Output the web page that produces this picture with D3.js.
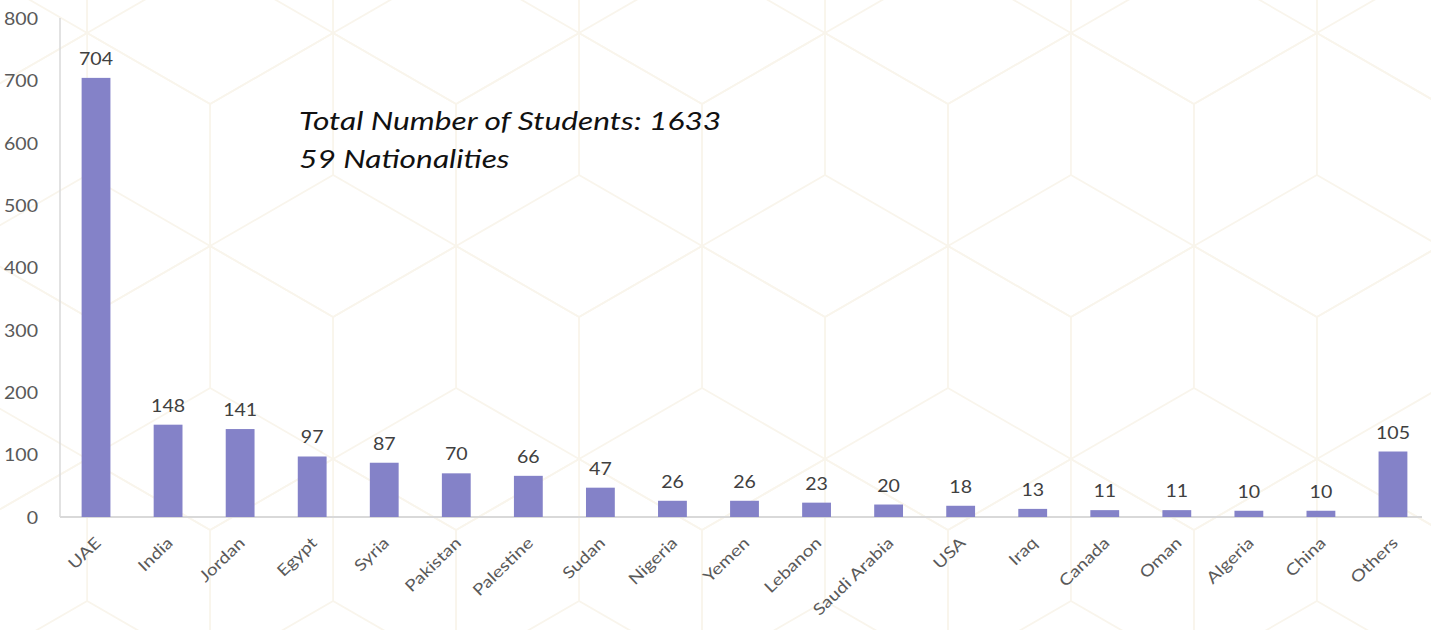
<!DOCTYPE html>
<html>
<head>
<meta charset="utf-8">
<script src="https://cdnjs.cloudflare.com/ajax/libs/d3/7.8.5/d3.min.js"></script>
<style>
	body { margin: 0; background: #fff; }
	svg { display: block; font-family: Lato, "Open Sans", sans-serif; }
</style>
</head>
<body>
<div id="chart"></div>
<script>
var countries = ["UAE", "India", "Jordan", "Egypt", "Syria", "Pakistan", "Palestine", "Sudan", "Nigeria", "Yemen",
	"Lebanon", "Saudi Arabia", "USA", "Iraq", "Canada", "Oman", "Algeria", "China", "Others"];
var students = [704, 148, 141, 97, 87, 70, 66, 47, 26, 26, 23, 20, 18, 13, 11, 11, 10, 10, 105];
var yTicks = [0, 100, 200, 300, 400, 500, 600, 700, 800];
var noteLines = ["Total Number of Students: 1633", "59 Nationalities"];

var cfg = {
	width: 1431, height: 630,
	left: 60, right: 1429, top: 18, bottom: 517,
	barColor: "#8482c8",
	axisColor: "#d9d9d9",
	textColor: "#595959",
	hexColor: "#f9f5ec",
	stretch: 1.15   // the source picture is a little wider than tall text would be
};

var svg = d3.select("#chart").append("svg")
	.attr("width", cfg.width).attr("height", cfg.height);

// faint cube/hexagon pattern in the background
var R = 142, dx = R * Math.sqrt(3);
var bg = svg.append("g").attr("fill", "none").attr("stroke", cfg.hexColor).attr("stroke-width", 1.8);
for (var row = -1; row < 5; row++) {
	var cy = 175 + row * 1.5 * R;
	var offset = (row % 2 === 0) ? 0 : -dx / 2;
	for (var col = -5; col < 4; col++) {
		var cx = 825 + offset + col * dx;
		var pts = d3.range(6).map(function(i){
			var a = (-90 + i * 60) * Math.PI / 180;
			return [cx + R * Math.cos(a), cy + R * Math.sin(a)];
		});
		bg.append("path").attr("d", d3.line()(pts) + "Z");
		[pts[0], pts[2], pts[4]].forEach(function(p){
			bg.append("line").attr("x1", cx).attr("y1", cy).attr("x2", p[0]).attr("y2", p[1]);
		});
	}
}

var x = d3.scaleBand().domain(countries).range([cfg.left, cfg.right]).paddingInner(0.6).paddingOuter(0.3);
var y = d3.scaleLinear().domain([0, 800]).range([cfg.bottom, cfg.top]);

// y axis labels
svg.append("g").selectAll("text")
	.data(yTicks).enter()
	.append("text")
	.attr("transform", function(d){ return "translate(38," + y(d) + ") scale(" + cfg.stretch + ",1)"; })
	.attr("dy", "0.4em")
	.attr("text-anchor", "end")
	.style("font-size", "17px")
	.style("fill", cfg.textColor)
	.text(function(d){ return d; });

// axis lines
svg.append("line")
	.attr("x1", cfg.left).attr("x2", cfg.left)
	.attr("y1", y(800)).attr("y2", cfg.bottom)
	.style("stroke", cfg.axisColor).style("stroke-width", 1.5);
svg.append("line")
	.attr("x1", cfg.left).attr("x2", 1422)
	.attr("y1", cfg.bottom).attr("y2", cfg.bottom)
	.style("stroke", cfg.axisColor).style("stroke-width", 2);

// bars
svg.append("g").selectAll("rect")
	.data(students).enter()
	.append("rect")
	.attr("x", function(d, i){ return x(countries[i]); })
	.attr("width", x.bandwidth())
	.attr("y", function(d){ return y(d); })
	.attr("height", function(d){ return cfg.bottom - y(d); })
	.style("fill", cfg.barColor);

// value labels
svg.append("g").selectAll("text")
	.data(students).enter()
	.append("text")
	.attr("transform", function(d, i){
		return "translate(" + (x(countries[i]) + x.bandwidth() / 2) + "," + (y(d) - 13) + ") scale(" + cfg.stretch + ",1)";
	})
	.attr("text-anchor", "middle")
	.style("font-size", "17px")
	.style("fill", "#404040")
	.text(function(d){ return d; });

// category labels
svg.append("g").selectAll("text")
	.data(countries).enter()
	.append("text")
	.attr("transform", function(d){
		return "translate(" + (x(d) + x.bandwidth() / 2 + 2) + ",540) rotate(-44) scale(1.2,1)";
	})
	.attr("dy", "0.35em")
	.attr("text-anchor", "end")
	.style("font-size", "16px")
	.style("fill", cfg.textColor)
	.text(function(d){ return d; });

// note
svg.append("g").selectAll("text")
	.data(noteLines).enter()
	.append("text")
	.attr("transform", function(d, i){ return "translate(299," + (130 + i * 38) + ") scale(1.22,1)"; })
	.style("font-size", "26px")
	.style("font-style", "italic")
	.style("fill", "#111")
	.text(function(d){ return d; });
</script>
</body>
</html>
